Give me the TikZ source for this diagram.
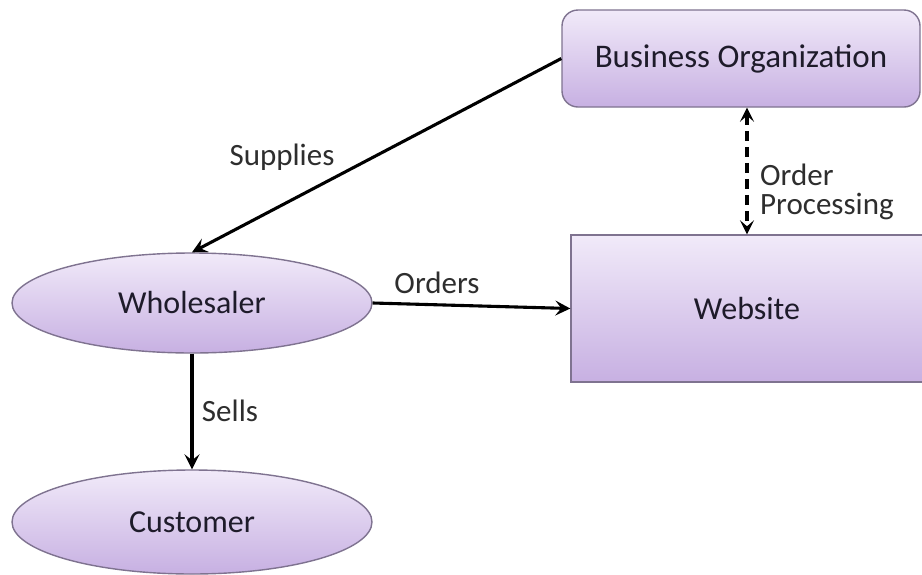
\documentclass[tikz,border=0pt]{standalone}
\usepackage{fontspec}
\setmainfont{Carlito}
\usetikzlibrary{arrows.meta,shapes.geometric}
\definecolor{boxtop}{HTML}{F1EAF9}
\definecolor{boxbot}{HTML}{C7B0E2}
\definecolor{boxline}{HTML}{7F7390}
\definecolor{txt}{HTML}{1E1B2A}
\definecolor{lbl}{HTML}{2E2E2E}
\tikzset{
  shapebox/.style={draw=boxline, line width=1.4pt, top color=boxtop, bottom color=boxbot,
    text=txt, font=\fontsize{32}{36}\selectfont, inner sep=0pt},
  rectbox/.style={shapebox, rectangle},
  ellbox/.style={shapebox, ellipse},
  conn/.style={line width=3.1pt, black, -{Stealth[length=15pt,width=15pt,inset=6pt]}},
  lab/.style={text=lbl, font=\fontsize{31}{27}\selectfont, inner sep=0pt}
}
\begin{document}
\begin{tikzpicture}[x=1pt,y=-1pt]
\clip (0,0) rectangle (922,574);
\fill[white] (0,0) rectangle (922,574);
\node[rectbox, rounded corners=16pt, minimum width=358pt, minimum height=97pt,
  font=\fontsize{33}{36}\selectfont] (bo) at (741,58.5) {Business Organization};
\node[rectbox, minimum width=352pt, minimum height=147pt] (web) at (747,308.5) {Website};
\node[ellbox, minimum width=360pt, minimum height=100pt] (whole) at (192,303) {Wholesaler};
\node[ellbox, minimum width=360pt, minimum height=104pt] (cust) at (192,522) {Customer};
\draw[conn] (bo.west) -- (whole.north);
\draw[conn] (whole.east) -- (web.west);
\draw[conn] (whole.south) -- (cust.north);
\draw[line width=3.4pt, dash pattern=on 10pt off 6pt,
  {Stealth[length=14pt,width=14pt,inset=6pt]}-{Stealth[length=14pt,width=14pt,inset=6pt]}]
  (web.north |- bo.south) -- (web.north);
\node[lab] (lsup) at (282,157) {Supplies};
\node[lab] (lord) at (437,283) {Orders};
\node[lab] (lsell) at (230,411) {Sells};
\node[lab, anchor=base west, text depth=0pt] (lop1) at (760,185) {Order};
\node[lab, anchor=base west] (lop2) at (760,214) {Processing};
\end{tikzpicture}
\end{document}
